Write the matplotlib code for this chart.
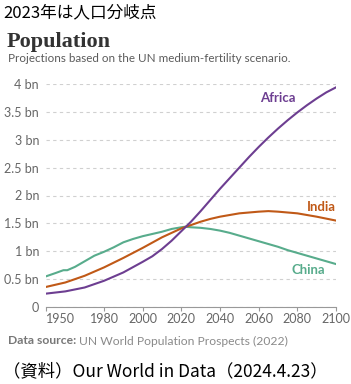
import numpy as np
import matplotlib
matplotlib.use("Agg")
import matplotlib.pyplot as plt

# population in billions
years_africa = [1950, 1960, 1970, 1980, 1990, 2000, 2005, 2010, 2015, 2020, 2025,
                2030, 2035, 2040, 2045, 2050, 2055, 2060, 2065, 2070, 2075, 2080,
                2085, 2090, 2095, 2100]
africa = [0.24, 0.28, 0.35, 0.47, 0.62, 0.81, 0.91, 1.04, 1.19, 1.36, 1.53,
          1.72, 1.92, 2.12, 2.31, 2.50, 2.69, 2.87, 3.04, 3.20, 3.35, 3.49,
          3.62, 3.74, 3.85, 3.94]

years_india = [1950, 1960, 1970, 1980, 1990, 2000, 2010, 2020, 2025, 2030, 2035,
               2040, 2050, 2060, 2065, 2070, 2080, 2090, 2100]
india = [0.36, 0.44, 0.56, 0.71, 0.88, 1.06, 1.25, 1.41, 1.47, 1.53, 1.58,
         1.62, 1.68, 1.71, 1.72, 1.71, 1.68, 1.62, 1.55]

years_china = [1950, 1955, 1959, 1961, 1965, 1970, 1975, 1980, 1985, 1990, 1995,
               2000, 2005, 2010, 2015, 2020, 2022, 2025, 2030, 2035, 2040, 2045,
               2050, 2055, 2060, 2065, 2070, 2075, 2080, 2085, 2090, 2095, 2100]
china = [0.55, 0.61, 0.66, 0.66, 0.72, 0.82, 0.92, 0.99, 1.07, 1.16, 1.22,
         1.27, 1.31, 1.35, 1.40, 1.43, 1.44, 1.43, 1.42, 1.40, 1.37, 1.33,
         1.28, 1.23, 1.18, 1.13, 1.08, 1.02, 0.97, 0.92, 0.87, 0.82, 0.77]

x_ticks = [1950, 1980, 2000, 2020, 2040, 2060, 2080, 2100]
y_ticks = [0, 0.5, 1, 1.5, 2, 2.5, 3, 3.5, 4]
y_labels = ["0", "0.5 bn", "1 bn", "1.5 bn", "2 bn", "2.5 bn", "3 bn", "3.5 bn", "4 bn"]

c_africa = "#6D3E91"
c_india = "#C05917"
c_china = "#58AC8C"
grey = "#666666"
jp = ["Noto Sans CJK JP", "DejaVu Sans"]

fig = plt.figure(figsize=(3.51, 3.84), dpi=100)
ax = fig.add_axes([46/351, 1-307/384, 290/351, 223/384])

ax.plot(years_china, china, color=c_china, lw=1.5)
ax.plot(years_india, india, color=c_india, lw=1.5)
ax.plot(years_africa, africa, color=c_africa, lw=1.5)

ax.set_xlim(1950, 2100)
ax.set_ylim(0, 4)
ax.set_xticks(x_ticks)
ax.set_yticks(y_ticks)
ax.set_yticklabels(y_labels)
ax.tick_params(axis="y", length=0, pad=5, labelsize=9, labelcolor=grey)
ax.tick_params(axis="x", length=3, color="#999999", pad=1.5, labelsize=9, labelcolor=grey)
for lab in ax.get_xticklabels() + ax.get_yticklabels():
    lab.set_fontfamily("Lato")
# first year label sits to the right of its tick
ax.get_xticklabels()[0].set_horizontalalignment("left")
for s in ["top", "right", "left"]:
    ax.spines[s].set_visible(False)
ax.spines["bottom"].set_color("#999999")
ax.grid(axis="y", color="#d0d0d0", linestyle=(0, (3, 3)), lw=0.8)
ax.set_axisbelow(True)

ax.text(2069.8, 3.75, "Africa", color=c_africa, fontsize=9.5, fontweight="bold",
        family="Lato", ha="center", va="center")
ax.text(2092.6, 1.79, "India", color=c_india, fontsize=9.5, fontweight="bold",
        family="Lato", ha="center", va="center")
ax.text(2085.7, 0.67, "China", color=c_china, fontsize=9.5, fontweight="bold",
        family="Lato", ha="center", va="center")

fig.text(3/351, 1-13/384, "2023年は人口分岐点", fontsize=12,
         family=jp, va="center", ha="left")
fig.text(7/351, 1-42/384, "Population", fontsize=16, fontweight="bold",
         family="Liberation Serif", color="#333333", va="center", ha="left")
fig.text(8/351, 1-59/384, "Projections based on the UN medium-fertility scenario.",
         fontsize=8.4, family="Lato", color="#5b5b5b", va="center", ha="left")

t = fig.text(8/351, 1-341/384, "Data source:", fontsize=8.7, family="Lato",
             fontweight="bold", color="#777777", va="center", ha="left")
fig.canvas.draw()
bb = t.get_window_extent()
fig.text((bb.x1 + 3)/351, 1-341/384, "UN World Population Prospects (2022)",
         fontsize=8.7, family="Lato", color="#8a8a8a", va="center", ha="left")

fig.text(3/351, 1-371/384, "（資料）Our World in Data（2024.4.23）", fontsize=12.5,
         family=jp, va="center", ha="left")

fig.savefig("out.png", dpi=100)
